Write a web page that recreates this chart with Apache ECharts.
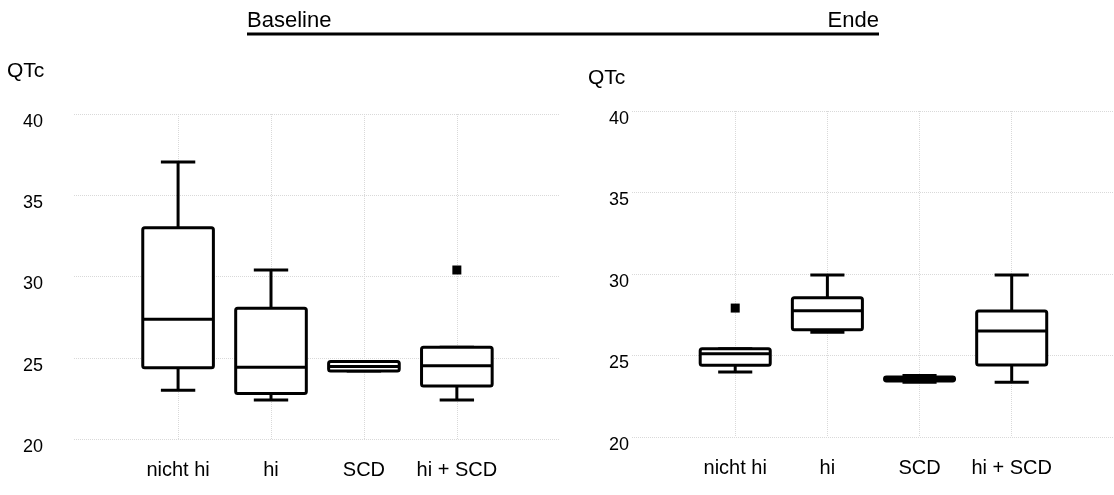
<!DOCTYPE html>
<html>
<head>
<meta charset="utf-8">
<script src="https://cdn.jsdelivr.net/npm/echarts@6/dist/echarts.min.js"></script>
<style>
html,body{margin:0;padding:0;background:#fff;}
#chart{width:1114px;height:495px;}
</style>
</head>
<body>
<div id="chart"></div>
<script>
// ---- data ----
const categories = ['nicht hi', 'hi', 'SCD', 'hi + SCD'];
const panelTitles = ['Baseline', 'Ende'];
const yAxisName = 'QTc';
const yTicks = [20, 25, 30, 35, 40];
// [low whisker, Q1, median, Q3, high whisker]
const baselineBox = [
  [23.0, 24.39, 27.37, 33.0, 37.05],
  [22.4, 22.8, 24.41, 28.04, 30.4],
  [24.18, 24.18, 24.46, 24.77, 24.77],
  [22.4, 23.26, 24.51, 25.64, 25.64]
];
const baselineOutliers = [[4, 30.4]];
const endeBox = [
  [23.99, 24.4, 25.11, 25.42, 25.42],
  [26.42, 26.58, 27.75, 28.55, 29.94],
  [23.36, 23.44, 23.56, 23.68, 23.77],
  [23.36, 24.42, 26.5, 27.73, 29.94]
];
const endeOutliers = [[1, 27.91]];

// ---- chart ----
const chart = echarts.init(document.getElementById('chart'));
const FONT = 'Liberation Sans, Arial, sans-serif';
const gridLine = {show: true, lineStyle: {color: '#d9d9d9', type: [1, 1], width: 1}};

function boxData(arr) {
  return arr.map((b, i) => [i + 1].concat(b));
}

function renderBox(params, api) {
  const x = api.value(0);
  const lo = api.coord([x, api.value(1)]);
  const q1 = api.coord([x, api.value(2)]);
  const md = api.coord([x, api.value(3)]);
  const q3 = api.coord([x, api.value(4)]);
  const hi = api.coord([x, api.value(5)]);
  const band = api.size([1, 0])[0];
  const hw = band * 0.38;
  const cw = band * 0.185;
  const cx = lo[0];
  const style = {stroke: '#000', lineWidth: 3, fill: null, lineJoin: 'round', lineCap: 'butt'};
  const children = [
    {type: 'line', shape: {x1: cx, y1: q3[1], x2: cx, y2: hi[1]}, style: style},
    {type: 'line', shape: {x1: cx, y1: q1[1], x2: cx, y2: lo[1]}, style: style},
    {type: 'line', shape: {x1: cx - cw, y1: hi[1], x2: cx + cw, y2: hi[1]}, style: style},
    {type: 'line', shape: {x1: cx - cw, y1: lo[1], x2: cx + cw, y2: lo[1]}, style: style},
    {type: 'rect', shape: {x: cx - hw, y: q3[1], width: hw * 2, height: q1[1] - q3[1], r: 2}, style: Object.assign({}, style, {fill: '#fff'})},
    {type: 'line', shape: {x1: cx - hw, y1: md[1], x2: cx + hw, y2: md[1]}, style: style}
  ];
  return {type: 'group', children: children};
}

function xAxisCfg(gi) {
  return {
    type: 'value', gridIndex: gi, min: -0.12, max: 5.11,
    axisLine: {show: false},
    axisTick: {show: false, customValues: [1, 2, 3, 4]},
    axisLabel: {
      customValues: [1, 2, 3, 4],
      formatter: v => categories[Math.round(v) - 1] || '',
      color: '#000', fontFamily: FONT, fontSize: 20, margin: 21
    },
    splitLine: gridLine
  };
}

function yAxisCfg(gi, margin) {
  return {
    type: 'value', gridIndex: gi, min: yTicks[0], max: yTicks[yTicks.length - 1], interval: 5,
    axisLine: {show: false}, axisTick: {show: false},
    axisLabel: {color: '#000', fontFamily: FONT, fontSize: 18, margin: margin, verticalAlign: 'top', lineHeight: 16},
    splitLine: gridLine
  };
}

const option = {
  backgroundColor: '#fff',
  animation: false,
  grid: [
    {left: 74, right: 554, top: 114, bottom: 56},
    {left: 632, right: -5, top: 111, bottom: 58}
  ],
  xAxis: [xAxisCfg(0), xAxisCfg(1)],
  yAxis: [yAxisCfg(0, 31), yAxisCfg(1, 3)],
  graphic: [
    {type: 'text', left: 247, top: 10, style: {text: panelTitles[0], font: '22px ' + FONT, fill: '#000'}},
    {type: 'text', right: 1114 - 879, top: 10, style: {text: panelTitles[1], font: '22px ' + FONT, fill: '#000'}},
    {type: 'line', shape: {x1: 247, y1: 34, x2: 879, y2: 34}, style: {stroke: '#000', lineWidth: 3}},
    {type: 'text', left: 7, top: 61, style: {text: yAxisName, font: '21px ' + FONT, fill: '#000'}},
    {type: 'text', left: 588, top: 68, style: {text: yAxisName, font: '21px ' + FONT, fill: '#000'}}
  ],
  series: [
    {type: 'custom', xAxisIndex: 0, yAxisIndex: 0, renderItem: renderBox, data: boxData(baselineBox), encode: {x: 0, y: [1, 2, 3, 4, 5]}, z: 3},
    {type: 'custom', xAxisIndex: 1, yAxisIndex: 1, renderItem: renderBox, data: boxData(endeBox), encode: {x: 0, y: [1, 2, 3, 4, 5]}, z: 3},
    {type: 'scatter', xAxisIndex: 0, yAxisIndex: 0, symbol: 'rect', symbolSize: 9, itemStyle: {color: '#000', opacity: 1}, data: baselineOutliers, z: 4},
    {type: 'scatter', xAxisIndex: 1, yAxisIndex: 1, symbol: 'rect', symbolSize: 9, itemStyle: {color: '#000', opacity: 1}, data: endeOutliers, z: 4}
  ]
};
chart.setOption(option);
</script>
</body>
</html>
